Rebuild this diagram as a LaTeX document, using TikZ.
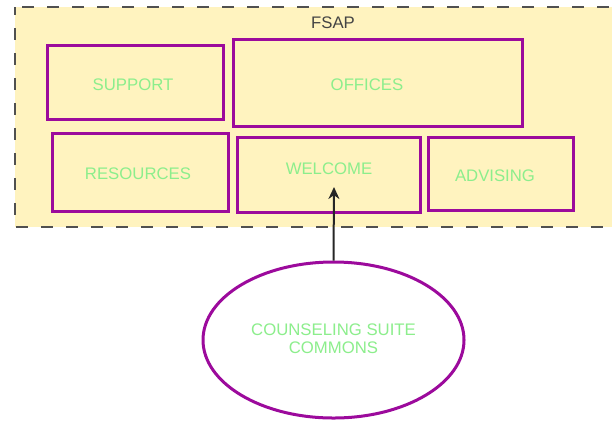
\documentclass[tikz,border=0pt]{standalone}
\usepackage{fontspec}
\setmainfont{Liberation Sans}
\usetikzlibrary{shapes.geometric,arrows.meta}
\definecolor{roomfill}{HTML}{FFF3BF}
\definecolor{roomedge}{HTML}{9C0A9C}
\definecolor{roomtext}{HTML}{8CEE8C}
\definecolor{zoneedge}{HTML}{505050}
\tikzset{
  room/.style={draw=roomedge, line width=3bp, fill=roomfill, inner sep=0pt},
  roomlabel/.style={text=roomtext, font=\fontsize{16.8}{18.5}\selectfont, inner sep=0pt, align=center},
  zone/.style={draw=zoneedge, line width=2.5bp, fill=roomfill, dash pattern=on 12bp off 13bp, dash phase=4bp},
}
\begin{document}
\begin{tikzpicture}[x=1bp,y=-1bp]
\useasboundingbox (0,0) rectangle (612,421);
\clip (0,0) rectangle (612,421);
% FSAP zone
\draw[zone] (15,7) rectangle (640,227);
\node[text=zoneedge!85!black, font=\fontsize{16.8}{18.5}\selectfont, inner sep=0pt] (fsap) at (333,23) {FSAP};
% rooms
\node[room, minimum width=175bp, minimum height=74bp] (support) at (135.5,82) {};
\node[room, minimum width=289bp, minimum height=87bp] (offices) at (377.5,82.5) {};
\node[room, minimum width=175bp, minimum height=78bp] (resources) at (140.5,172) {};
\node[room, minimum width=183bp, minimum height=75bp] (welcome) at (328.5,174.5) {};
\node[room, minimum width=145bp, minimum height=73bp] (advising) at (500.5,173.5) {};
\node[roomlabel] (supporttxt) at (133,85) {SUPPORT};
\node[roomlabel] (officestxt) at (367,85) {OFFICES};
\node[roomlabel] (resourcestxt) at (138,174) {RESOURCES};
\node[roomlabel] (welcometxt) at (329,169) {WELCOME};
\node[roomlabel] (advisingtxt) at (495,176) {ADVISING};
% counseling suite
\node[draw=roomedge, line width=3bp, fill=white, ellipse, minimum width=261bp, minimum height=156bp, inner sep=0pt] (commons) at (333.5,340) {};
\node[roomlabel] (commonstxt) at (333.5,339) {COUNSELING SUITE\\COMMONS};
\coordinate (entry) at (334,187);
\draw[line width=2bp, draw=black!85, -{Stealth[length=12bp,width=11bp]}] (commons.north) -- (entry);
\end{tikzpicture}
\end{document}
